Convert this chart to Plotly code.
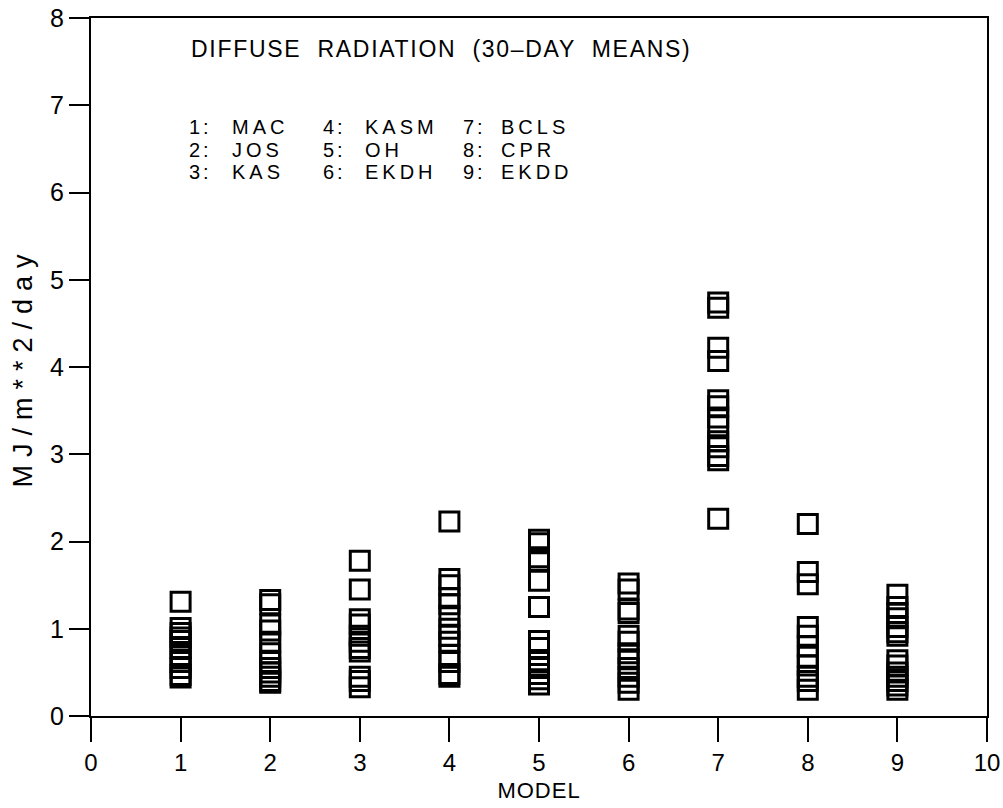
import plotly.graph_objects as go

# Diffuse radiation, 30-day means, per model (MJ/m**2/day)
model_ids = [1, 2, 3, 4, 5, 6, 7, 8, 9]
model_names = ["MAC", "JOS", "KAS", "KASM", "OH", "EKDH", "BCLS", "CPR", "EKDD"]

mac = [1.31, 1.01, 0.95, 0.90, 0.86, 0.78, 0.70, 0.62, 0.55, 0.47, 0.44]
jos = [1.33, 1.28, 1.05, 0.98, 0.85, 0.72, 0.62, 0.55, 0.50, 0.45, 0.40, 0.38]
kas = [1.78, 1.45, 1.11, 1.05, 0.92, 0.85, 0.78, 0.74, 0.45, 0.40, 0.33]
kasm = [2.23, 1.57, 1.50, 1.35, 1.28, 1.15, 1.00, 0.92, 0.85, 0.70, 0.62, 0.48, 0.45]
oh = [2.02, 1.98, 1.82, 1.78, 1.55, 1.25, 0.86, 0.78, 0.62, 0.55, 0.48, 0.42, 0.36]
ekdh = [1.52, 1.45, 1.22, 1.18, 0.92, 0.85, 0.72, 0.65, 0.55, 0.45, 0.38, 0.30]
bcls = [4.74, 4.68, 4.22, 4.07, 3.62, 3.55, 3.42, 3.32, 3.15, 3.08, 2.98, 2.93, 2.26]
cpr = [2.20, 1.65, 1.51, 1.02, 0.92, 0.80, 0.68, 0.58, 0.45, 0.40, 0.30]
ekdd = [1.39, 1.25, 1.18, 1.12, 1.02, 0.96, 0.92, 0.64, 0.58, 0.50, 0.45, 0.40, 0.35, 0.30]

series = [mac, jos, kas, kasm, oh, ekdh, bcls, cpr, ekdd]

x_ticks = list(range(0, 11))
y_ticks = list(range(0, 9))

FONT = "Liberation Sans"


def spaced(text, px):
    """Wrap text in a span with extra letter spacing (plotter-style lettering)."""
    return f'<span style="letter-spacing:{px}px">{text}</span>'


fig = go.Figure()
for mid, vals in zip(model_ids, series):
    fig.add_trace(go.Scatter(
        x=[mid] * len(vals),
        y=vals,
        mode="markers",
        marker=dict(symbol="square-open", size=19, color="black",
                    line=dict(width=3, color="black")),
        showlegend=False,
        hoverinfo="x+y",
    ))

# Title inside the plot
fig.add_annotation(x=1.09, y=7.64, xref="x", yref="y", xanchor="left", yanchor="middle",
                   text=spaced("DIFFUSE  RADIATION  (30\u2013DAY  MEANS)", 1.7), showarrow=False,
                   font=dict(family=FONT, size=23, color="black"))

# Model key in three columns
key_cols = [(1.07, 1.55), (2.57, 3.04), (4.13, 4.55)]
key_rows = [6.75, 6.49, 6.23]
for i, (mid, name) in enumerate(zip(model_ids, model_names)):
    col, row = divmod(i, 3)
    xn, xt = key_cols[col]
    fig.add_annotation(x=xn, y=key_rows[row], xref="x", yref="y", xanchor="left",
                       yanchor="middle", text=spaced(f"{mid}:", 3), showarrow=False,
                       font=dict(family=FONT, size=20, color="black"))
    fig.add_annotation(x=xt, y=key_rows[row], xref="x", yref="y", xanchor="left",
                       yanchor="middle", text=spaced(name, 4), showarrow=False,
                       font=dict(family=FONT, size=20, color="black"))

fig.update_layout(
    width=1003, height=808,
    margin=dict(l=91, r=16, t=18, b=92, autoexpand=False),
    paper_bgcolor="white", plot_bgcolor="white",
    font=dict(family=FONT, size=24, color="black"),
)
fig.update_xaxes(
    range=[0, 10], tickmode="array", tickvals=x_ticks, ticktext=[str(t) for t in x_ticks],
    tickfont=dict(family=FONT, size=24), automargin=False,
    showline=True, linecolor="black", linewidth=2, mirror=True,
    ticks="outside", ticklen=24, tickwidth=2, tickcolor="black",
    showgrid=False, zeroline=False,
    title=dict(text=spaced("MODEL", 1), font=dict(family=FONT, size=22), standoff=8),
)
fig.update_yaxes(
    range=[0, 8], tickmode="array", tickvals=y_ticks, ticktext=[str(t) for t in y_ticks],
    tickfont=dict(family=FONT, size=25), automargin=False,
    showline=True, linecolor="black", linewidth=2, mirror=True,
    ticks="outside", ticklen=20, tickwidth=2, tickcolor="black",
    showgrid=False, zeroline=False,
    title=dict(text=spaced("MJ/m**2/day", 8), font=dict(family=FONT, size=27), standoff=10),
)

fig.write_html("out.html")
